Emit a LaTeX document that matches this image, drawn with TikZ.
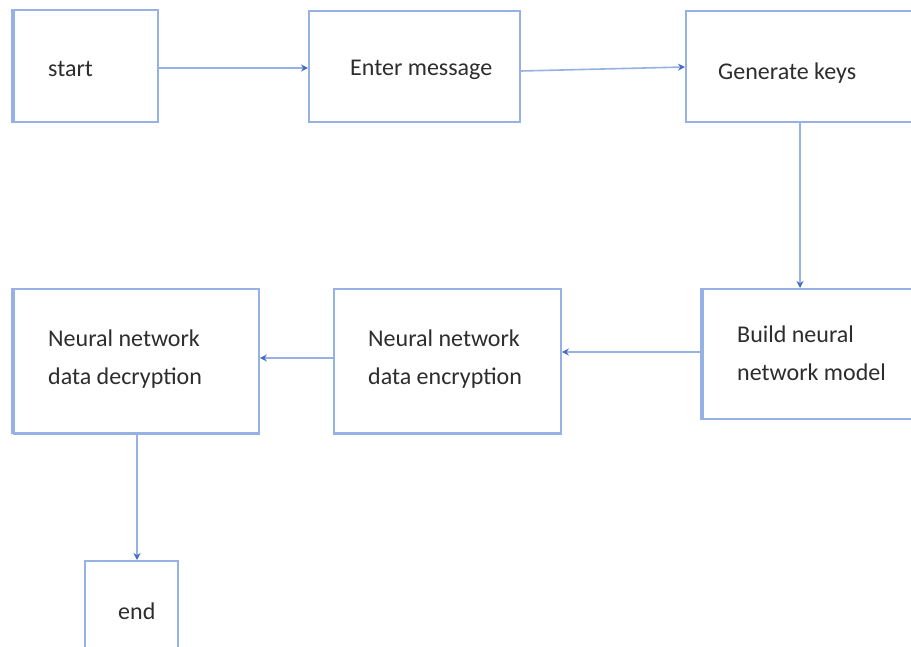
\documentclass[tikz,border=0pt]{standalone}
\usepackage{fontspec}
\setmainfont{Carlito}
\usetikzlibrary{arrows.meta}
\definecolor{edge}{RGB}{150,178,228}
\definecolor{tip}{RGB}{68,108,200}
\definecolor{ink}{RGB}{45,45,45}
\tikzset{
  box/.style={draw=edge, line width=1.8pt, rectangle, anchor=north west, inner sep=0pt},
  lbl/.style={anchor=west, align=left, text=ink, inner sep=0pt,
    font=\fontsize{24}{38}\selectfont},
  flow/.style={draw=edge, line width=1.6pt, -{Stealth[length=7pt,width=7pt,color=tip]}},
  heavy/.style={draw=edge, line width=4pt}
}
\begin{document}
\begin{tikzpicture}[x=1pt,y=-1pt]
  \useasboundingbox (0,0) rectangle (911,647);
  \clip (0,0) rectangle (911,647);
  \fill[white] (0,0) rectangle (911,647);

  % process boxes
  \node[box, minimum width=144pt, minimum height=112pt] (start) at (13,9) {};
  \node[box, minimum width=211pt, minimum height=111pt] (enter) at (308,10) {};
  \node[box, minimum width=245pt, minimum height=111pt] (gen) at (685,10) {};
  \node[box, minimum width=228pt, minimum height=130pt] (build) at (702,288) {};
  \node[box, minimum width=227pt, minimum height=144pt] (enc) at (333,288) {};
  \node[box, minimum width=245pt, minimum height=144pt] (dec) at (13,288) {};
  \node[box, minimum width=93pt, minimum height=110pt] (end) at (84,560) {};

  % heavier edges
  \draw[heavy] (start.north west) -- (start.south west);
  \draw[heavy] (build.north west) -- (build.south west);
  \draw[heavy] (dec.north west) -- (dec.south west);
  \draw[line width=3pt, edge] (dec.south west) -- (dec.south east);
  \draw[line width=3pt, edge] (enc.south west) -- (enc.south east);

  % labels
  \node[lbl] (tstart) at (48,69) {start};
  \node[lbl] (tenter) at (350,70) {Enter message};
  \node[lbl] (tgen) at (718,73) {Generate keys};
  \node[lbl] (tbuild) at (737,353) {Build neural\\network model};
  \node[lbl] (tenc) at (368,359) {Neural network\\data encryption};
  \node[lbl] (tdec) at (48,359) {Neural network\\data decryption};
  \node[lbl] (tend) at (118,611) {end};

  % connector guides
  \coordinate (r1) at (0,68);
  \coordinate (r2a) at (0,71);
  \coordinate (r2b) at (0,67);
  \coordinate (c1) at (800,0);
  \coordinate (r3) at (0,352);
  \coordinate (r4) at (0,358);
  \coordinate (c2) at (137,0);

  % connectors
  \draw[flow] (start.east |- r1) -- (enter.west |- r1);
  \draw[flow] (enter.east |- r2a) -- (gen.west |- r2b);
  \draw[flow] (gen.south -| c1) -- (build.north -| c1);
  \draw[flow] (build.west |- r3) -- (enc.east |- r3);
  \draw[flow] (enc.west |- r4) -- (dec.east |- r4);
  \draw[flow] (dec.south -| c2) -- (end.north -| c2);
\end{tikzpicture}
\end{document}
